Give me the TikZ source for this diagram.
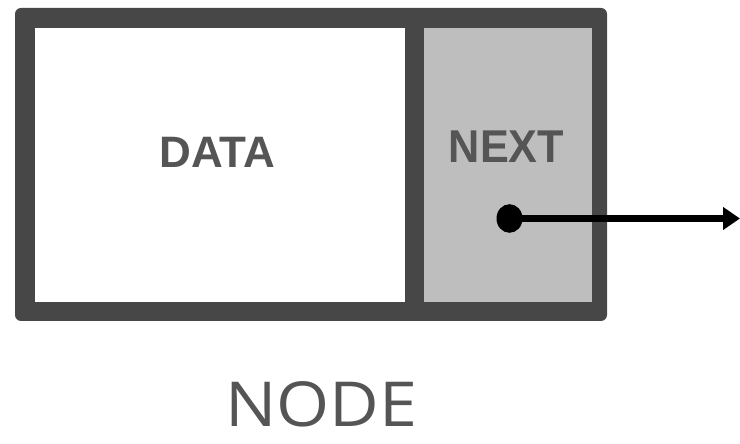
\documentclass[tikz,border=0pt]{standalone}
\usepackage{fontspec}
\usepackage{xcolor}
\usepackage{tikz}
\usetikzlibrary{arrows.meta,positioning,calc}
\newfontfamily\boxfont{Liberation Sans}
\newfontfamily\titlefont{Open Sans}
\definecolor{framegray}{HTML}{474747}
\definecolor{cellgray}{HTML}{BEBEBE}
\definecolor{textgray}{HTML}{555555}
\tikzset{
  frame/.style={draw=none, fill=framegray, rounded corners=6pt, inner sep=0pt},
  cell/.style={draw=none, inner sep=0pt, minimum height=274pt},
  field/.style={text=textgray, font=\boxfont\bfseries\fontsize{44}{44}\selectfont, inner sep=0pt},
  ptr/.style={-{Triangle[length=17pt, width=22pt]}, line width=7pt}
}

\begin{document}
\begin{tikzpicture}[x=1pt, y=1pt]
    \useasboundingbox (0,0) rectangle (740,444);
    % Outer frame
    \node[frame, minimum width=592pt, minimum height=313pt] (frame) at (311,279.5) {};
    % Cells
    \node[cell, fill=white, minimum width=370.5pt] (data) at (219.75,279) {};
    \node[cell, fill=cellgray, minimum width=168pt] (next) at (508,279) {};
    % Field labels
    \node[field] (datalbl) at ($(data.center)+(-2.5,13)$) {DATA};
    \node[field, font=\boxfont\bfseries\fontsize{46}{46}\selectfont, xscale=0.94] (nextlbl) at ($(next.center)+(-1.5,18)$) {NEXT};
    % Pointer
    \node[circle, fill=black, minimum size=26pt, inner sep=0pt, yscale=1.1] (dot) at (509.5,225.5) {};
    \coordinate (target) at (740,225.5);
    \draw[ptr] (dot.center) -- (target);
    % Caption
    \node[text=textgray, font=\titlefont\fontsize{62}{62}\selectfont, inner sep=0pt, xscale=1.1] (caption) at (321.5,39.5) {NODE};
\end{tikzpicture}
\end{document}
